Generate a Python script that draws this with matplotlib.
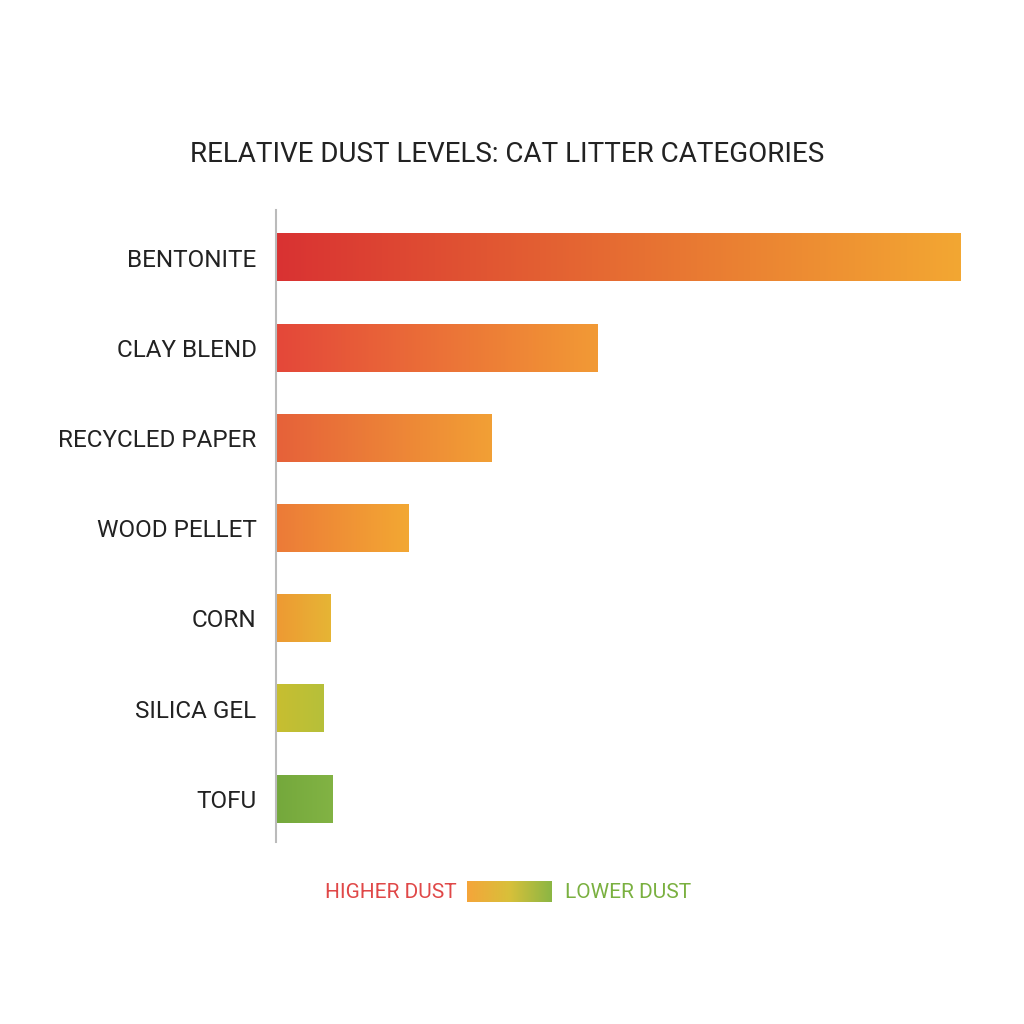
import numpy as np
import matplotlib.pyplot as plt
from matplotlib.colors import LinearSegmentedColormap

categories = ["BENTONITE", "CLAY BLEND", "RECYCLED PAPER", "WOOD PELLET",
              "CORN", "SILICA GEL", "TOFU"]
dust_level = [100, 47, 31.5, 19.4, 7.9, 6.9, 8.2]
start_colors = ["#D93232", "#E4473A", "#E6613A", "#EC7A38", "#EE9933", "#C8BE30", "#74A83C"]
end_colors = ["#F3A733", "#F29A35", "#F2A035", "#F3A833", "#E6B535", "#B6C03A", "#82B344"]

plt.rcParams['font.family'] = ['Roboto', 'DejaVu Sans']

fig = plt.figure(figsize=(10.24, 10.24), dpi=100)
fig.patch.set_facecolor("white")
ax = fig.add_axes([276 / 1024, 1 - 842 / 1024, 685 / 1024, 632 / 1024])

bar_h = 0.53
ys = np.arange(len(categories))
for y, v, c0, c1 in zip(ys, dust_level, start_colors, end_colors):
    cmap = LinearSegmentedColormap.from_list("g", [c0, c1])
    grad = np.linspace(0, 1, 256).reshape(1, -1)
    ax.imshow(grad, cmap=cmap, aspect="auto", interpolation="bilinear",
              extent=[0, v, y + bar_h / 2, y - bar_h / 2], zorder=2)

ax.set_xlim(0, 100)
ax.set_ylim(len(categories) - 1 + 0.48, -0.527)
ax.set_yticks(ys)
ax.set_yticklabels(categories, fontsize=17.5, color="#222222")
ax.tick_params(axis="y", length=0, pad=14)
ax.set_xticks([])
for s in ["top", "right", "bottom"]:
    ax.spines[s].set_visible(False)
ax.spines["left"].set_color("#BBBBBB")
ax.spines["left"].set_linewidth(1.5)

fig.text(507 / 1024, 1 - 155 / 1024, "RELATIVE DUST LEVELS: CAT LITTER CATEGORIES",
         ha="center", va="center", fontsize=20, color="#222222")

# legend
fig.text(457 / 1024, 1 - 893 / 1024, "HIGHER DUST", ha="right", va="center",
         fontsize=15, color="#E04848")
fig.text(565 / 1024, 1 - 893 / 1024, "LOWER DUST", ha="left", va="center",
         fontsize=15, color="#7AB040")
lax = fig.add_axes([467 / 1024, 1 - 902 / 1024, 85 / 1024, 21 / 1024])
lcmap = LinearSegmentedColormap.from_list("leg", ["#F5A53A", "#D8C03A", "#8BB644"])
lax.imshow(np.linspace(0, 1, 256).reshape(1, -1), cmap=lcmap, aspect="auto")
lax.axis("off")

fig.savefig("out.png", dpi=100, facecolor="white")
